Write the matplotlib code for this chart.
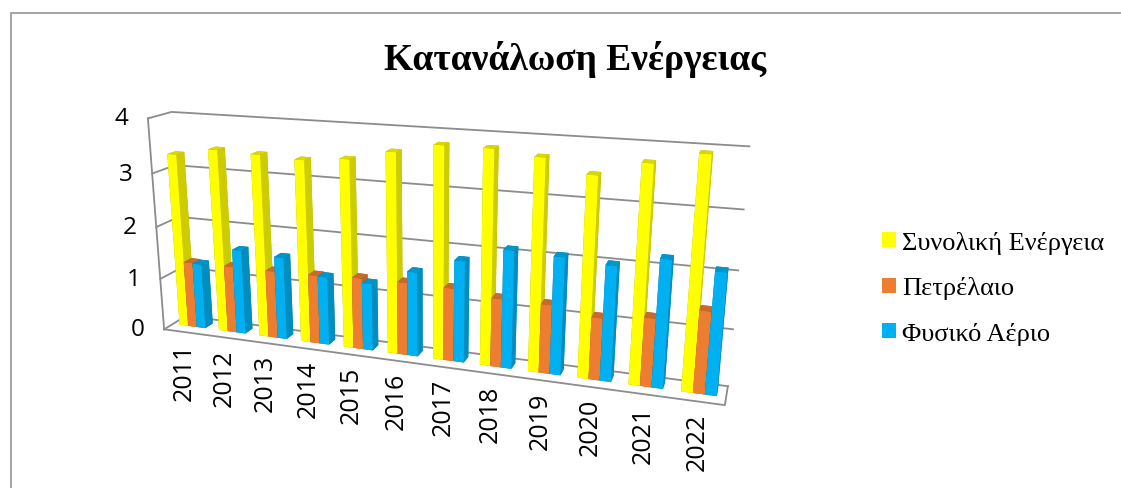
import numpy as np
import matplotlib.pyplot as plt
from matplotlib.patches import Patch
from matplotlib.lines import Line2D
from matplotlib.colors import to_rgb
from mpl_toolkits.mplot3d import proj3d

# data
years = ['2011', '2012', '2013', '2014', '2015', '2016',
         '2017', '2018', '2019', '2020', '2021', '2022']
total = [3.31, 3.45, 3.42, 3.38, 3.45, 3.63, 3.80, 3.80, 3.71, 3.48, 3.73, 3.93]
oil = [1.27, 1.28, 1.28, 1.29, 1.33, 1.34, 1.33, 1.24, 1.23, 1.10, 1.20, 1.42]
gas = [1.26, 1.61, 1.56, 1.28, 1.25, 1.55, 1.84, 2.11, 2.08, 2.02, 2.21, 2.09]
names = ['Συνολική Ενέργεια', 'Πετρέλαιο', 'Φυσικό Αέριο']
colors = ['#FFFF00', '#ED7D31', '#00B0F0']
yticks = [0, 1, 2, 3, 4]

W, H = 1121, 489
fig = plt.figure(figsize=(W / 100, H / 100), dpi=100)

# square 3d axes, centred where the middle of the box should land
S = 800
cx, cy = 416, 259
ax = fig.add_axes([(cx - S / 2) / W, 1 - (cy + S / 2) / H, S / W, S / H],
                  projection='3d', proj_type='persp', focal_length=0.24)
ax.view_init(elev=16.5, azim=-71)
ax.set_box_aspect((6, 0.45, 2.35), zoom=0.78)
ax.set_axis_off()
ax.computed_zorder = False

n = len(years)
x0, x1 = -0.5, n - 0.5
ax.set_xlim(x0, x1)
ax.set_ylim(0, 1)
ax.set_zlim(0, 4)

grid_col = '#8C8C8C'
# back wall + side wall gridlines
for z in yticks:
    ax.plot([x0, x0, x1], [0, 1, 1], [z, z, z], color=grid_col, lw=1.3, zorder=1)
ax.plot([x0, x0], [0, 0], [0, 4], color=grid_col, lw=1.3, zorder=1)

# bars, left to right so nearer ones are painted last
w = 0.22
series = [total, oil, gas]
for i in range(n):
    for k in range(3):
        base = np.array(to_rgb(colors[k]))
        # faces: bottom, top, front, back, left, right
        faces = [base * 0.7, base * 0.85, base, base * 0.7, base * 0.7, base * 0.8]
        ax.bar3d(i - 1.5 * w + k * w, 0.4, 0, w, 0.35, series[k][i],
                 color=faces, shade=False, zorder=2 + (3 * i + k) / 100)

# floor front edge
ax.plot([x0, x1, x1], [0, 0, 1], [0, 0, 0], color=grid_col, lw=1.3, zorder=3)

M = ax.get_proj()
for z in yticks:
    px, py, _ = proj3d.proj_transform(x0, 0, z, M)
    ax.annotate(str(z), xy=(px, py), xytext=(-14, 0), textcoords='offset points',
                ha='right', va='center', fontsize=17.5, family='Open Sans')
for i, yr in enumerate(years):
    px, py, _ = proj3d.proj_transform(i, 0, 0, M)
    ax.annotate(yr, xy=(px, py), xytext=(0, -8), textcoords='offset points',
                ha='center', va='top', rotation=90, fontsize=18, family='Open Sans')

fig.text(575 / W, 1 - 60 / H, 'Κατανάλωση Ενέργειας', ha='center', va='center',
         fontsize=27, fontweight='bold', family='Liberation Serif')

handles = [Patch(facecolor=c, edgecolor='none') for c in colors]
fig.legend(handles, names, loc='center left', bbox_to_anchor=(0.766, 1 - 289 / H),
           frameon=False, handlelength=0.5, handleheight=0.5, handletextpad=0.25,
           labelspacing=0.85, prop={'family': 'Liberation Serif', 'size': 19})

# chart border
fig.add_artist(Line2D([11 / W, 11 / W, 1.0], [0.0, 1 - 14 / H, 1 - 14 / H],
                      transform=fig.transFigure, color='#A6A6A6', lw=1.5))

fig.savefig('out.png', dpi=100)
